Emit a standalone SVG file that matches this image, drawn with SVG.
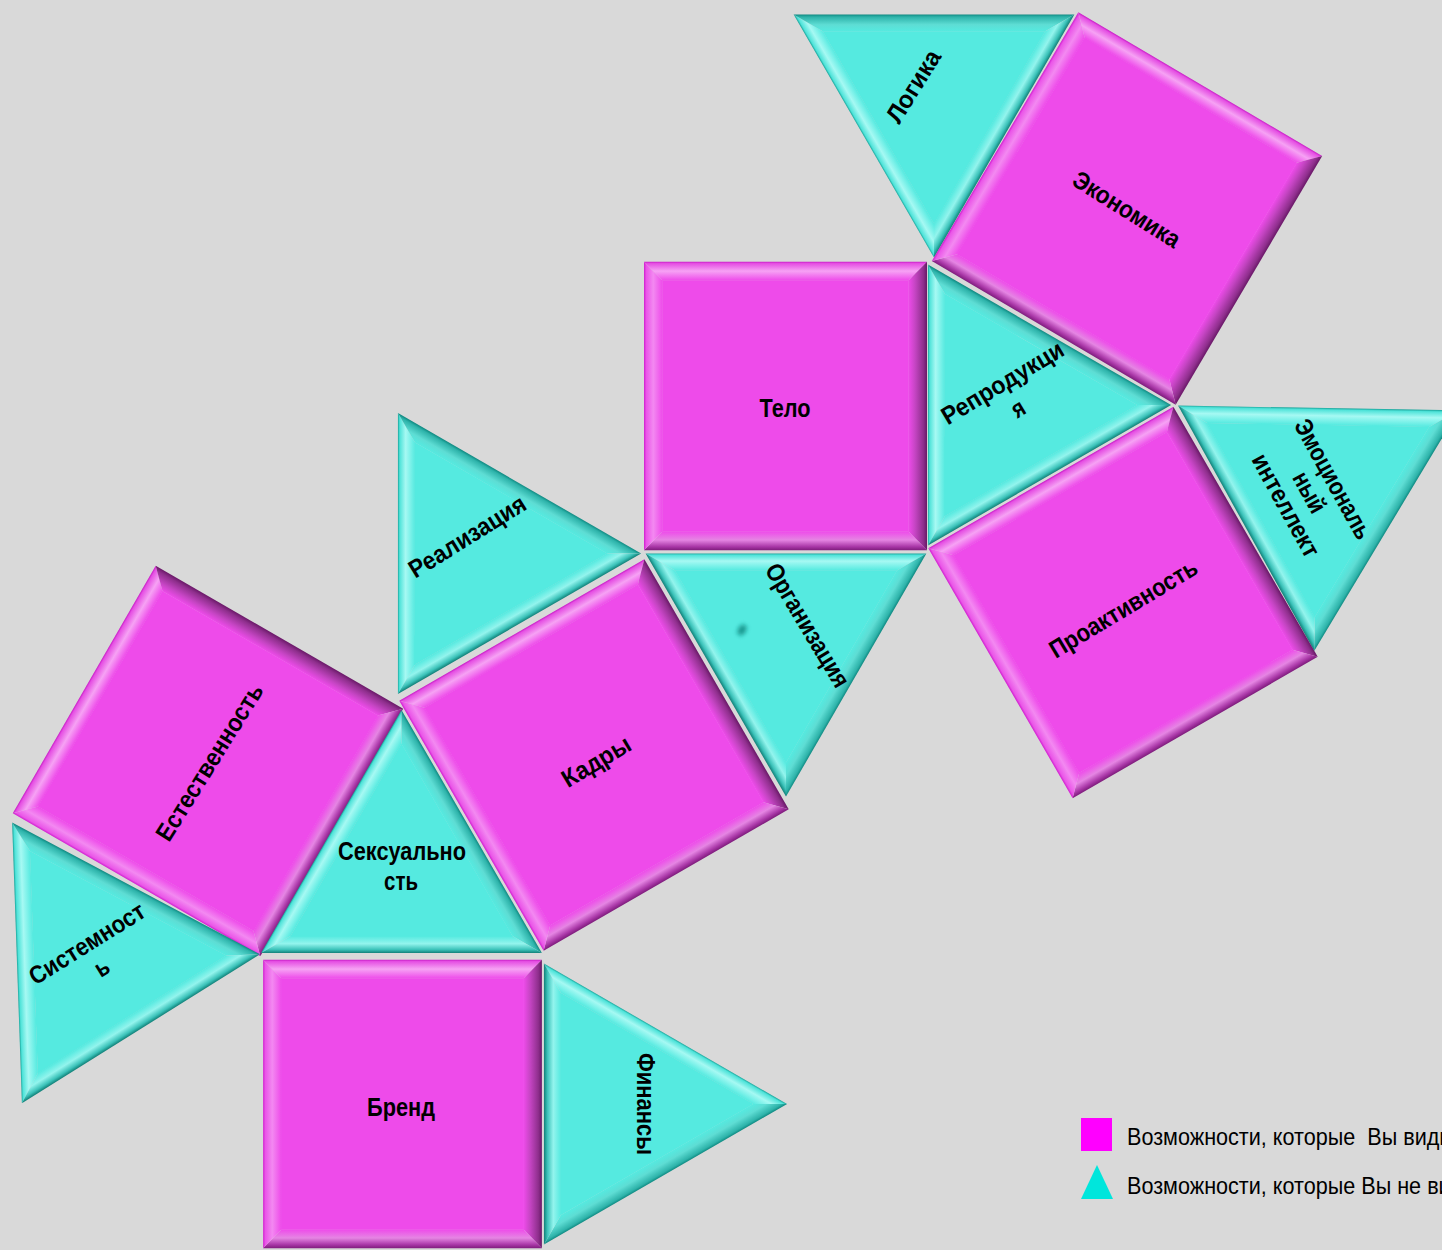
<svg xmlns="http://www.w3.org/2000/svg" width="1442" height="1250" viewBox="0 0 1442 1250">
<style>
.lb{font-family:"Liberation Sans",Arial,sans-serif;font-weight:bold;font-size:25px;fill:#000;text-anchor:middle}
.lg{font-family:"Liberation Sans",Arial,sans-serif;font-size:24px;fill:#000}
</style>
<defs>
<linearGradient id="mT" x1="0" y1="0" x2="0" y2="1"><stop offset="0" stop-color="#C81CC6"/><stop offset=".1" stop-color="#E54FE3"/><stop offset=".5" stop-color="#F6A2F4"/><stop offset="1" stop-color="#EE4BEA"/></linearGradient>
<linearGradient id="mL" x1="0" y1="0" x2="1" y2="0"><stop offset="0" stop-color="#D01ECE"/><stop offset=".12" stop-color="#EA55E8"/><stop offset=".5" stop-color="#F389F1"/><stop offset="1" stop-color="#EE4BEA"/></linearGradient>
<linearGradient id="mR" x1="1" y1="0" x2="0" y2="0"><stop offset="0" stop-color="#6A1868"/><stop offset=".2" stop-color="#8F2F8D"/><stop offset=".65" stop-color="#C645C4"/><stop offset="1" stop-color="#EE4BEA"/></linearGradient>
<linearGradient id="mB" x1="0" y1="1" x2="0" y2="0"><stop offset="0" stop-color="#7E1C7C"/><stop offset=".2" stop-color="#AA38A8"/><stop offset=".55" stop-color="#E585E3"/><stop offset="1" stop-color="#EE4BEA"/></linearGradient>
<linearGradient id="tL" gradientUnits="userSpaceOnUse" x1="-70.2" y1="-40.5" x2="-55.5" y2="-32"><stop offset="0" stop-color="#1AA79D"/><stop offset=".1" stop-color="#4FE3D9"/><stop offset=".45" stop-color="#A6F9F3"/><stop offset="1" stop-color="#55EAE0"/></linearGradient>
<linearGradient id="tR" gradientUnits="userSpaceOnUse" x1="70.2" y1="-40.5" x2="55.5" y2="-32"><stop offset="0" stop-color="#0F8A82"/><stop offset=".15" stop-color="#2EB3AA"/><stop offset=".6" stop-color="#5EDDD4"/><stop offset="1" stop-color="#55EAE0"/></linearGradient>
<linearGradient id="tB" gradientUnits="userSpaceOnUse" x1="0" y1="81.05" x2="0" y2="64.05"><stop offset="0" stop-color="#118078"/><stop offset=".2" stop-color="#3BC2B9"/><stop offset=".55" stop-color="#93F4ED"/><stop offset="1" stop-color="#55EAE0"/></linearGradient>
<filter id="blur" x="-1" y="-1" width="3" height="3"><feGaussianBlur stdDeviation="2"/></filter>
<g id="sq">
<polygon points="-141.5,-141.5 141.5,-141.5 123,-123 -123,-123" fill="url(#mT)"/>
<polygon points="141.5,-141.5 141.5,141.5 123,123 123,-123" fill="url(#mR)"/>
<polygon points="141.5,141.5 -141.5,141.5 -123,123 123,123" fill="url(#mB)"/>
<polygon points="-141.5,141.5 -141.5,-141.5 -123,-123 -123,123" fill="url(#mL)"/>
<rect x="-123.3" y="-123.3" width="246.6" height="246.6" fill="#EE4BEA"/>
</g>
<g id="tri">
<polygon points="-140.4,81.05 0,-162.1 0,-128.1 -110.9,64.05" fill="url(#tL)"/>
<polygon points="0,-162.1 140.4,81.05 110.9,64.05 0,-128.1" fill="url(#tR)"/>
<polygon points="140.4,81.05 -140.4,81.05 -110.9,64.05 110.9,64.05" fill="url(#tB)"/>
<polygon points="0,-128.5 111.2,64.3 -111.2,64.3" fill="#55EAE0"/>
</g>
</defs>
<rect width="1442" height="1250" fill="#D9D9D9"/>
<g id="connectors"></g>
<g id="logika"><use href="#tri" transform="translate(934,95.5) rotate(-60)"/><text class="lb" transform="translate(913,86) rotate(-58)" y="9" textLength="81" lengthAdjust="spacingAndGlyphs">Логика</text></g>
<g id="ekonomika"><use href="#sq" transform="translate(1127,208.5) rotate(30.5) scale(1,1.02)"/><text class="lb" transform="translate(1127,209) rotate(32)" y="9" textLength="122" lengthAdjust="spacingAndGlyphs">Экономика</text></g>
<g id="telo"><use href="#sq" transform="translate(785.5,406) scale(1,1.02)"/><text class="lb" x="785" y="417" textLength="51" lengthAdjust="spacingAndGlyphs">Тело</text></g>
<g id="reprodukciya"><use href="#tri" transform="translate(1009,405) rotate(-30)"/><text class="lb" transform="translate(1010,395) rotate(-31)" y="-6" textLength="138" lengthAdjust="spacingAndGlyphs">Репродукци</text><text class="lb" transform="translate(1010,395) rotate(-31)" y="24" textLength="12" lengthAdjust="spacingAndGlyphs">я</text></g>
<g id="emocionalnyi"><use href="#tri" transform="translate(1317,489) rotate(61)"/><text class="lb" transform="translate(1310,492) rotate(61)" y="-18" textLength="133" lengthAdjust="spacingAndGlyphs">Эмоциональ</text><text class="lb" transform="translate(1310,492) rotate(61)" y="9" textLength="43" lengthAdjust="spacingAndGlyphs">ный</text><text class="lb" transform="translate(1310,492) rotate(61)" y="36" textLength="114" lengthAdjust="spacingAndGlyphs">интеллект</text></g>
<g id="proaktivnost"><use href="#sq" transform="translate(1123,602.5) rotate(-30) scale(1,1.02)"/><text class="lb" transform="translate(1123,608) rotate(-31)" y="9" textLength="168" lengthAdjust="spacingAndGlyphs">Проактивность</text></g>
<g id="realizaciya"><use href="#tri" transform="translate(479,553.5) rotate(-30)"/><text class="lb" transform="translate(467,536) rotate(-32)" y="9" textLength="133" lengthAdjust="spacingAndGlyphs">Реализация</text></g>
<g id="organizaciya"><use href="#tri" transform="translate(786,634.5) rotate(60)"/><ellipse cx="742" cy="630" rx="4" ry="6" transform="rotate(30 742 630)" fill="#0F8A82" opacity=".85" filter="url(#blur)"/><text class="lb" transform="translate(808,625) rotate(59)" y="9" textLength="140" lengthAdjust="spacingAndGlyphs">Организация</text></g>
<g id="kadry"><use href="#sq" transform="translate(594,755) rotate(-30) scale(1,1.02)"/><text class="lb" transform="translate(596,761) rotate(-31)" y="9" textLength="76" lengthAdjust="spacingAndGlyphs">Кадры</text></g>
<g id="estestvennost"><use href="#sq" transform="translate(208,761) rotate(-60) scale(1.01,1.01)"/><text class="lb" transform="translate(209,762) rotate(-58)" y="9" textLength="180" lengthAdjust="spacingAndGlyphs">Естественность</text></g>
<g id="seksualnost"><use href="#tri" transform="translate(401.5,872)"/><text class="lb" x="402" y="860" textLength="128" lengthAdjust="spacingAndGlyphs">Сексуально</text><text class="lb" x="401" y="890" textLength="34" lengthAdjust="spacingAndGlyphs">сть</text></g>
<g id="sistemnost"><use href="#tri" transform="translate(98,960) rotate(-32)"/><text class="lb" transform="translate(94,955) rotate(-32)" y="-5" textLength="132" lengthAdjust="spacingAndGlyphs">Системност</text><text class="lb" transform="translate(94,955) rotate(-32)" y="23" textLength="13" lengthAdjust="spacingAndGlyphs">ь</text></g>
<g id="brend"><use href="#sq" transform="translate(402.5,1104) scale(0.985,1.02)"/><text class="lb" x="401" y="1116" textLength="68" lengthAdjust="spacingAndGlyphs">Бренд</text></g>
<g id="finansy"><use href="#tri" transform="translate(625,1104) rotate(90)"/><text class="lb" transform="translate(646,1104) rotate(90)" y="9" textLength="102" lengthAdjust="spacingAndGlyphs">Финансы</text></g>
<g id="legend">
<rect x="1081" y="1118" width="31" height="33" fill="#FF00FF"/>
<polygon points="1081,1199 1113,1199 1097,1165" fill="#00E6DC"/>
<text class="lg" transform="translate(1127,1145) scale(0.9,1)" xml:space="preserve">Возможности, которые  Вы видите</text>
<text class="lg" transform="translate(1127,1194) scale(0.9,1)">Возможности, которые Вы не видите</text>
</g>
</svg>
